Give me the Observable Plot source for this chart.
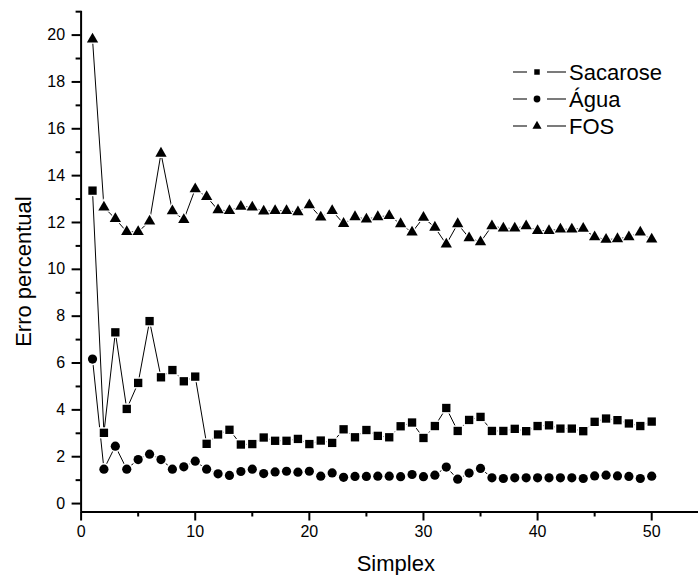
<!DOCTYPE html>
<html>
<head>
<meta charset="utf-8">
<script src="https://cdn.jsdelivr.net/npm/d3@7"></script>
<script src="https://cdn.jsdelivr.net/npm/@observablehq/plot@0.6"></script>
<style>
  html, body { margin: 0; padding: 0; background: #fff; }
  #wrap { position: relative; width: 698px; height: 575px; font-family: "Liberation Sans", Arial, sans-serif; color: #000; }
  #legend { position: absolute; left: 510px; top: 58px; }
</style>
</head>
<body>
<div id="wrap"><div id="legend"></div></div>
<script>
const simplex = [1,2,3,4,5,6,7,8,9,10,11,12,13,14,15,16,17,18,19,20,21,22,23,24,25,26,27,28,29,30,31,32,33,34,35,36,37,38,39,40,41,42,43,44,45,46,47,48,49,50];
const sacarose = [13.36,3.02,7.31,4.04,5.15,7.79,5.39,5.70,5.22,5.42,2.55,2.95,3.15,2.52,2.54,2.82,2.68,2.68,2.76,2.54,2.69,2.59,3.17,2.83,3.14,2.89,2.83,3.30,3.46,2.80,3.31,4.08,3.10,3.57,3.70,3.10,3.10,3.19,3.09,3.31,3.34,3.20,3.20,3.09,3.49,3.63,3.56,3.42,3.31,3.50];
const agua = [6.17,1.47,2.45,1.47,1.88,2.11,1.88,1.47,1.57,1.81,1.47,1.27,1.20,1.37,1.47,1.28,1.35,1.38,1.34,1.38,1.17,1.31,1.12,1.16,1.16,1.17,1.17,1.15,1.24,1.15,1.21,1.56,1.04,1.30,1.50,1.10,1.07,1.10,1.10,1.10,1.10,1.10,1.10,1.07,1.18,1.21,1.18,1.16,1.07,1.17];
const fos = [19.82,12.65,12.16,11.6,11.6,12.05,14.95,12.49,12.12,13.43,13.1,12.53,12.5,12.68,12.65,12.48,12.5,12.5,12.45,12.75,12.22,12.5,11.95,12.24,12.14,12.24,12.29,11.94,11.58,12.21,11.79,11.07,11.94,11.34,11.17,11.85,11.75,11.75,11.85,11.65,11.65,11.71,11.71,11.74,11.38,11.27,11.3,11.38,11.58,11.28];
const seriesNames = ["Sacarose", "Água", "FOS"];
const seriesSymbols = ["square", "circle", "triangle"];
const xMajor = [0,10,20,30,40,50];
const xMinor = [5,15,25,35,45];
const yMajor = [0,2,4,6,8,10,12,14,16,18,20];
const yMinor = [1,3,5,7,9,11,13,15,17,19,21];
const xDomain = [0, 54.1];
const yDomain = [-0.36, 21.02];

const seriesValues = [sacarose, agua, fos];
const data = seriesNames.flatMap((name, i) =>
  simplex.map((x, j) => ({series: name, symbol: seriesSymbols[i], x, y: seriesValues[i][j]})));

const markR = {square: 4.7, circle: 4.6, triangle: 4.2};

const marks = [
  Plot.line(data, {x: "x", y: "y", z: "series", stroke: "#000", strokeWidth: 1}),
];
for (const name of seriesNames) {
  const sub = data.filter(d => d.series === name);
  const sym = sub[0].symbol;
  marks.push(Plot.dot(sub, {x: "x", y: "y", symbol: () => sym, r: markR[sym] + 1.6, fill: "#fff", stroke: "none"}));
  marks.push(Plot.dot(sub, {x: "x", y: "y", symbol: () => sym, r: markR[sym], fill: "#000", stroke: "none"}));
}
marks.push(
  Plot.ruleX([xDomain[0]], {stroke: "#000", strokeWidth: 2}),
  Plot.ruleY([yDomain[0]], {stroke: "#000", strokeWidth: 2}),
  Plot.axisY({ticks: yMinor, tickSize: 5, text: null, label: null, strokeWidth: 2}),
  Plot.axisY({ticks: yMajor, tickSize: 9, tickPadding: 7, fontSize: 16, label: null, strokeWidth: 2}),
  Plot.axisX({ticks: xMinor, tickSize: 5, text: null, label: null, strokeWidth: 2}),
  Plot.axisX({ticks: xMajor, tickSize: 9, tickPadding: 5, fontSize: 16, label: null, strokeWidth: 2}),
  Plot.text(["Erro percentual"], {frameAnchor: "left", textAnchor: "middle", lineAnchor: "middle", rotate: -90, dx: -57, dy: 10, fontSize: 22, fill: "#000"}),
  Plot.text(["Simplex"], {frameAnchor: "bottom", textAnchor: "middle", lineAnchor: "middle", dx: 6, dy: 52, fontSize: 22, fill: "#000"})
);

const chart = Plot.plot({
  width: 698,
  height: 575,
  marginLeft: 80.6,
  marginRight: 0,
  marginTop: 10.7,
  marginBottom: 63.5,
  style: {fontFamily: "'Liberation Sans', Arial, sans-serif", color: "#000", background: "#fff", overflow: "visible"},
  x: {domain: xDomain},
  y: {domain: yDomain},
  symbol: {domain: seriesSymbols, range: seriesSymbols},
  marks
});
const wrap = document.getElementById("wrap");
wrap.insertBefore(chart, wrap.firstChild);

// Legend
const legendW = 180, rowH = 27;
const svg = d3.select("#legend").append("svg")
  .attr("width", legendW).attr("height", rowH * seriesNames.length + 4)
  .style("overflow", "visible");
const legSize = {square: 30, circle: 36, triangle: 36};
seriesNames.forEach((name, i) => {
  const g = svg.append("g").attr("transform", `translate(0, ${14 + i * rowH})`);
  g.append("line").attr("x1", 3).attr("x2", 17).attr("stroke", "#222").attr("stroke-width", 1.2);
  g.append("line").attr("x1", 37).attr("x2", 56).attr("stroke", "#222").attr("stroke-width", 1.2);
  const sym = {square: d3.symbolSquare, circle: d3.symbolCircle, triangle: d3.symbolTriangle}[seriesSymbols[i]];
  g.append("path").attr("d", d3.symbol(sym, legSize[seriesSymbols[i]])()).attr("transform", "translate(27,0)").attr("fill", "#000");
  g.append("text").attr("x", 59).attr("y", 0).attr("dy", "0.36em")
    .attr("font-size", 22).attr("font-family", "'Liberation Sans', Arial, sans-serif").text(name);
});
</script>
</body>
</html>
